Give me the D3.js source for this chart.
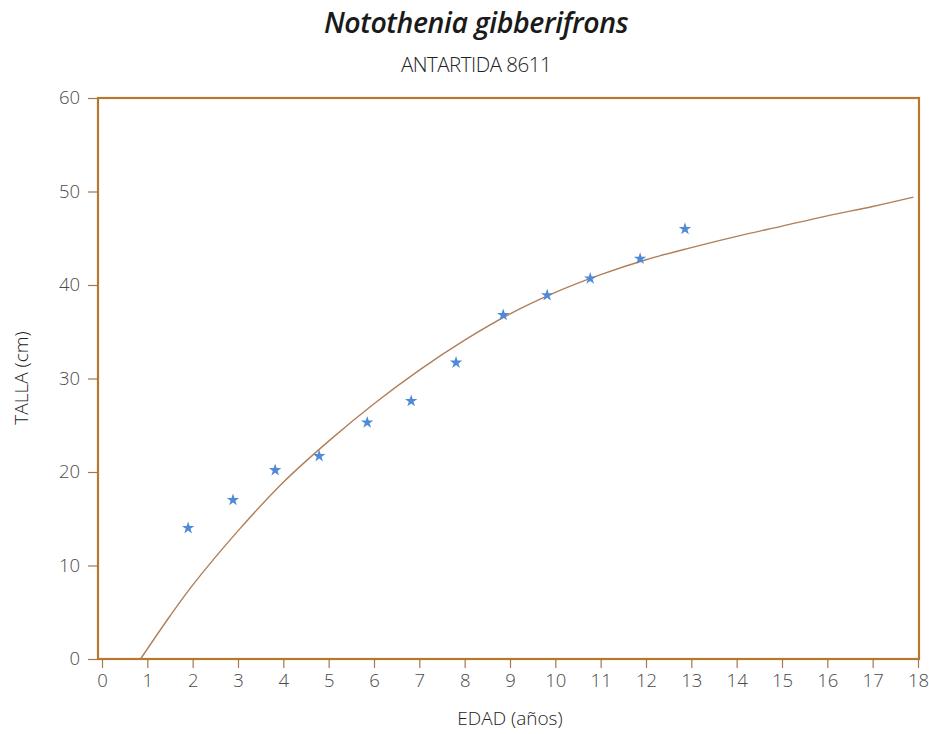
<!DOCTYPE html>
<html>
<head>
<meta charset="utf-8">
<script src="https://cdn.jsdelivr.net/npm/d3@7"></script>
<style>
  html, body { margin: 0; padding: 0; background: #fff; }
  svg { display: block; }
  text { font-family: "Open Sans", "Lato", sans-serif; }
</style>
</head>
<body>
<svg id="chart" width="929" height="734"></svg>
<script>
// ---- Data ----
const title = "Notothenia gibberifrons";
const subtitle = "ANTARTIDA 8611";
const xLabel = "EDAD (años)";
const yLabel = "TALLA (cm)";

const xTicks = [0,1,2,3,4,5,6,7,8,9,10,11,12,13,14,15,16,17,18];
const yTicks = [0,10,20,30,40,50,60];

const obsAge    = [1.90, 2.89, 3.82, 4.79, 5.85, 6.82, 7.81, 8.85, 9.82, 10.77, 11.87, 12.86];
const obsLength = [14.0, 17.0, 20.2, 21.7, 25.3, 27.6, 31.7, 36.8, 38.9, 40.7, 42.8, 46.0];

// fitted growth curve points
const curveAge    = [0.85, 1.5, 2, 3, 4, 5, 6, 7, 8, 9, 10, 11, 12, 13, 14, 15, 16, 17, 17.9];
const curveLength = [0.0, 4.6, 7.9, 13.7, 18.9, 23.3, 27.3, 30.9, 34.1, 36.9, 39.2, 41.1, 42.7, 44.0, 45.2, 46.3, 47.4, 48.4, 49.4];

// ---- Layout ----
const svg = d3.select("#chart");
const frame = { left: 98, right: 919, top: 98, bottom: 659 };
const x = d3.scaleLinear().domain([0, 18]).range([102, 918]);
const y = d3.scaleLinear().domain([0, 60]).range([659, 98]);

const frameColor = "#b8772f";
const textColor = "#4a4a4a";

// Titles
svg.append("text")
  .attr("x", 476).attr("y", 33)
  .attr("text-anchor", "middle")
  .style("font-size", "28.5px")
  .style("font-weight", "600")
  .style("font-style", "italic")
  .style("letter-spacing", "-0.4px")
  .style("fill", "#1a1a1a")
  .text(title);

svg.append("text")
  .attr("x", 476).attr("y", 72)
  .attr("text-anchor", "middle")
  .style("font-size", "20.5px")
  .style("font-weight", "300")
  .style("fill", "#222")
  .style("letter-spacing", "-0.5px")
  .text(subtitle);

// Frame
svg.append("rect")
  .attr("x", frame.left).attr("y", frame.top)
  .attr("width", frame.right - frame.left)
  .attr("height", frame.bottom - frame.top)
  .attr("fill", "none")
  .attr("stroke", frameColor)
  .attr("stroke-width", 2.2);

// X axis
const xAxis = d3.axisBottom(x).tickValues(xTicks).tickSize(9).tickPadding(6).tickFormat(d3.format("d"));
const gx = svg.append("g").attr("transform", `translate(0,${frame.bottom})`).call(xAxis);
gx.select(".domain").remove();
gx.selectAll(".tick line").attr("stroke", "#a07850").attr("stroke-width", 1.2);
gx.selectAll(".tick text")
  .style("font-size", "18.5px")
  .style("font-family", "\"Open Sans\", sans-serif")
  .style("font-weight", "300")
  .style("fill", textColor);

// Y axis
const yAxis = d3.axisLeft(y).tickValues(yTicks).tickSize(10).tickPadding(8).tickFormat(d3.format("d"));
const gy = svg.append("g").attr("transform", `translate(${frame.left},0)`).call(yAxis);
gy.select(".domain").remove();
gy.selectAll(".tick line").attr("stroke", "#a07850").attr("stroke-width", 1.2);
gy.selectAll(".tick text")
  .style("font-size", "18.5px")
  .style("font-family", "\"Open Sans\", sans-serif")
  .style("font-weight", "300")
  .style("fill", textColor);

// Axis labels
svg.append("text")
  .attr("x", 510).attr("y", 725)
  .attr("text-anchor", "middle")
  .style("font-size", "19px")
  .style("font-weight", "300")
  .style("fill", "#222")
  .text(xLabel);

svg.append("text")
  .attr("transform", "translate(28,378) rotate(-90)")
  .attr("text-anchor", "middle")
  .style("font-size", "19px")
  .style("font-weight", "300")
  .style("fill", "#222")
  .text(yLabel);

// Curve
const curveData = curveAge.map((a, i) => [a, curveLength[i]]);
const line = d3.line().x(d => x(d[0])).y(d => y(d[1])).curve(d3.curveCatmullRom);
svg.append("path")
  .datum(curveData)
  .attr("d", line)
  .attr("fill", "none")
  .attr("stroke", "#b07f58")
  .attr("stroke-width", 1.4);

// Observed stars
const obsData = obsAge.map((a, i) => [a, obsLength[i]]);
svg.append("g").selectAll("path")
  .data(obsData)
  .join("path")
  .attr("transform", d => `translate(${x(d[0])},${y(d[1])})`)
  .attr("d", d3.symbol().type(d3.symbolStar).size(48))
  .attr("fill", "#5089d8");
</script>
</body>
</html>
